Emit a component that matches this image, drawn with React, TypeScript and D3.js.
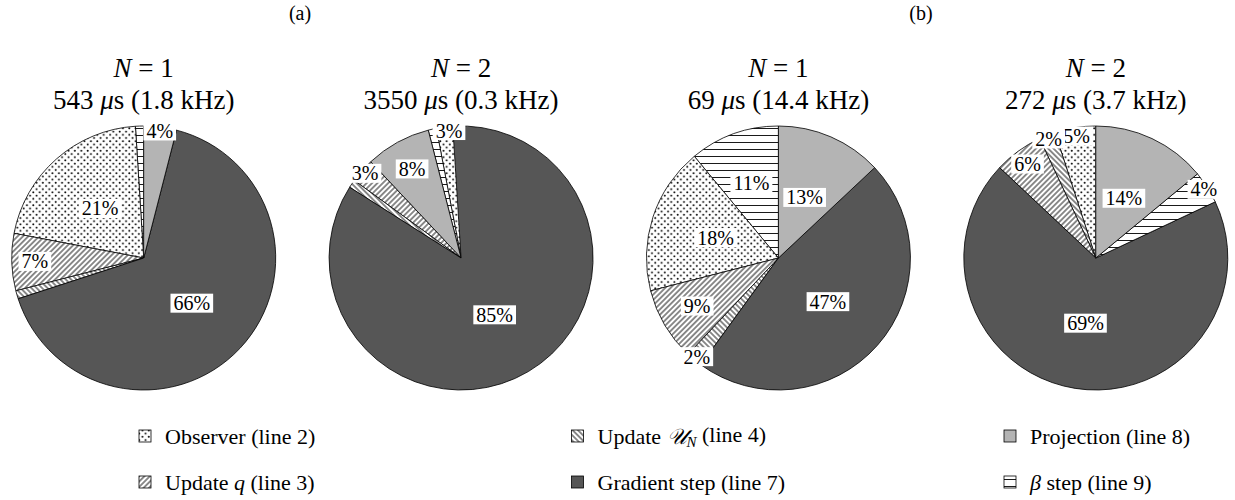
import React, { useEffect, useRef } from 'react';
import * as d3 from 'd3';

const W = 1235;
const H = 500;

// slice categories (legend order)
const sliceKeys = ['observer', 'updateQ', 'updateU', 'gradient', 'projection', 'beta'];

// pie headers
const pieN = ['1', '2', '1', '2'];
const pieTimes = ['543', '3550', '69', '272'];
const pieFreqs = ['1.8', '0.3', '14.4', '3.7'];
const groupLabels = ['(a)', '(b)'];

// slice order (counterclockwise from 12 o'clock) and values in %
const pieOrders = [
  ['beta', 'observer', 'updateQ', 'updateU', 'gradient', 'projection'],
  ['observer', 'beta', 'projection', 'updateQ', 'updateU', 'gradient'],
  ['beta', 'observer', 'updateQ', 'updateU', 'gradient', 'projection'],
  ['observer', 'updateU', 'updateQ', 'gradient', 'beta', 'projection'],
];
const pieValues = [
  [1, 21, 7, 1, 66, 4],
  [3, 1, 8, 3, 1, 85],
  [11, 18, 9, 2, 47, 13],
  [5, 2, 6, 69, 4, 14],
];

const fills: Record<string, string> = {
  observer: 'url(#pat-dots)',
  updateQ: 'url(#pat-ne)',
  updateU: 'url(#pat-nw)',
  gradient: '#565656',
  projection: '#b4b4b4',
  beta: 'url(#pat-h)',
};

const FONT = "'Liberation Serif', 'Times New Roman', serif";

const App = () => {
  const svgRef = useRef<SVGSVGElement>(null);

  useEffect(() => {
    document.body.style.margin = '0';
    const svg = d3.select(svgRef.current);
    svg.selectAll('*').remove();

    // patterns
    const defs = svg.append('defs');
    const ds = 6.4;
    const dots = defs.append('pattern')
      .attr('id', 'pat-dots')
      .attr('patternUnits', 'userSpaceOnUse')
      .attr('width', ds)
      .attr('height', ds);
    dots.append('rect').attr('width', ds).attr('height', ds).attr('fill', '#fff');
    dots.append('circle').attr('cx', ds / 4).attr('cy', ds / 4).attr('r', 1.0).attr('fill', '#000');
    dots.append('circle').attr('cx', (3 * ds) / 4).attr('cy', (3 * ds) / 4).attr('r', 1.0).attr('fill', '#000');

    const linePattern = (id: string, size: number, angle: number) => {
      const p = defs.append('pattern')
        .attr('id', id)
        .attr('patternUnits', 'userSpaceOnUse')
        .attr('width', size)
        .attr('height', size)
        .attr('patternTransform', `rotate(${angle})`);
      p.append('rect').attr('width', size).attr('height', size).attr('fill', '#fff');
      p.append('line')
        .attr('x1', 0).attr('y1', size / 2)
        .attr('x2', size).attr('y2', size / 2)
        .attr('stroke', '#000')
        .attr('stroke-width', 0.9);
    };
    linePattern('pat-h', 7, 0);
    linePattern('pat-ne', 3.8, -45);
    linePattern('pat-nw', 3.8, 45);

    // layout
    const R = 132;
    const cy = 258;
    const xPie = d3.scalePoint<number>().domain(d3.range(4)).range([143.7, 1095.8]);
    const arc = d3.arc<any>().innerRadius(0).outerRadius(R);

    // label distance from center depends on slice size
    const labelRadius = (v: number) => Math.max(0.5, Math.min(0.97, 1.21 - 0.055 * v)) * R;

    pieValues.forEach((vals, i) => {
      const cx = xPie(i) as number;
      const g = svg.append('g').attr('transform', `translate(${cx},${cy})`);
      const ends = d3.cumsum(vals);
      const slices = vals.map((v, j) => ({
        key: pieOrders[i][j],
        value: v,
        startAngle: -((ends[j] - v) / 100) * 2 * Math.PI,
        endAngle: -(ends[j] / 100) * 2 * Math.PI,
      }));

      g.selectAll('path.slice')
        .data(slices)
        .join('path')
        .attr('class', 'slice')
        .attr('d', arc)
        .attr('fill', d => fills[d.key])
        .attr('stroke', '#000')
        .attr('stroke-width', 0.8)
        .attr('stroke-linejoin', 'round');

      // percentage labels (tiny slices are left unlabeled)
      slices.filter(d => d.value >= 2).forEach(d => {
        const mid = (d.startAngle + d.endAngle) / 2;
        const rr = labelRadius(d.value);
        const lg = g.append('g').attr('transform', `translate(${Math.sin(mid) * rr},${-Math.cos(mid) * rr})`);
        const rect = lg.append('rect').attr('fill', '#fff');
        const t = lg.append('text')
          .attr('text-anchor', 'middle')
          .attr('dy', '0.35em')
          .style('font-family', FONT)
          .style('font-size', '20px')
          .text(`${d.value}%`);
        const bb = (t.node() as SVGTextElement).getBBox();
        rect.attr('x', bb.x - 3).attr('y', bb.y + 1.5).attr('width', bb.width + 6).attr('height', bb.height - 3);
      });

      // header
      const h1 = svg.append('text')
        .attr('x', cx).attr('y', 77)
        .attr('text-anchor', 'middle')
        .style('font-family', FONT)
        .style('font-size', '27px');
      h1.append('tspan').style('font-style', 'italic').text('N');
      h1.append('tspan').text(` = ${pieN[i]}`);

      const h2 = svg.append('text')
        .attr('x', cx).attr('y', 109)
        .attr('text-anchor', 'middle')
        .style('font-family', FONT)
        .style('font-size', '27px');
      h2.append('tspan').text(`${pieTimes[i]} `);
      h2.append('tspan').style('font-style', 'italic').text('μ');
      h2.append('tspan').text(`s (${pieFreqs[i]} kHz)`);
    });

    // group labels (a), (b)
    const groupX = d3.scalePoint<number>().domain([0, 1]).range([300, 921]);
    groupLabels.forEach((lab, k) => {
      svg.append('text')
        .attr('x', groupX(k) as number).attr('y', 20)
        .attr('text-anchor', 'middle')
        .style('font-family', FONT)
        .style('font-size', '20px')
        .text(lab);
    });

    // legend: 3 columns x 2 rows, filled column by column
    const legX = d3.scalePoint<number>().domain([0, 1, 2]).range([145, 1010]);
    const legY = d3.scalePoint<number>().domain([0, 1]).range([436, 482]);
    const box = 12;

    sliceKeys.forEach((key, idx) => {
      const col = Math.floor(idx / 2);
      const row = idx % 2;
      const x = legX(col) as number;
      const y = legY(row) as number;
      svg.append('rect')
        .attr('x', x - box / 2).attr('y', y - box / 2)
        .attr('width', box).attr('height', box)
        .attr('fill', fills[key])
        .attr('stroke', '#000')
        .attr('stroke-width', 0.8);

      const t = svg.append('text')
        .attr('x', x + 20).attr('y', y)
        .attr('dy', '0.35em')
        .style('font-family', FONT)
        .style('font-size', '22px');
      if (key === 'observer') t.text('Observer (line 2)');
      if (key === 'updateQ') {
        t.append('tspan').text('Update ');
        t.append('tspan').style('font-style', 'italic').text('q');
        t.append('tspan').text(' (line 3)');
      }
      if (key === 'updateU') {
        t.append('tspan').text('Update ');
        t.append('tspan').style('font-style', 'italic').text('𝒰');
        t.append('tspan').style('font-style', 'italic').style('font-size', '15px').attr('dy', '0.25em').text('N');
        t.append('tspan').attr('dy', '-0.25em').text(' (line 4)');
      }
      if (key === 'gradient') t.text('Gradient step (line 7)');
      if (key === 'projection') t.text('Projection (line 8)');
      if (key === 'beta') {
        t.append('tspan').style('font-style', 'italic').text('β');
        t.append('tspan').text(' step (line 9)');
      }
    });
  }, []);

  return (
    <svg
      ref={svgRef}
      width={W}
      height={H}
      style={{ display: 'block', background: '#fff' }}
    />
  );
};

export default App;
